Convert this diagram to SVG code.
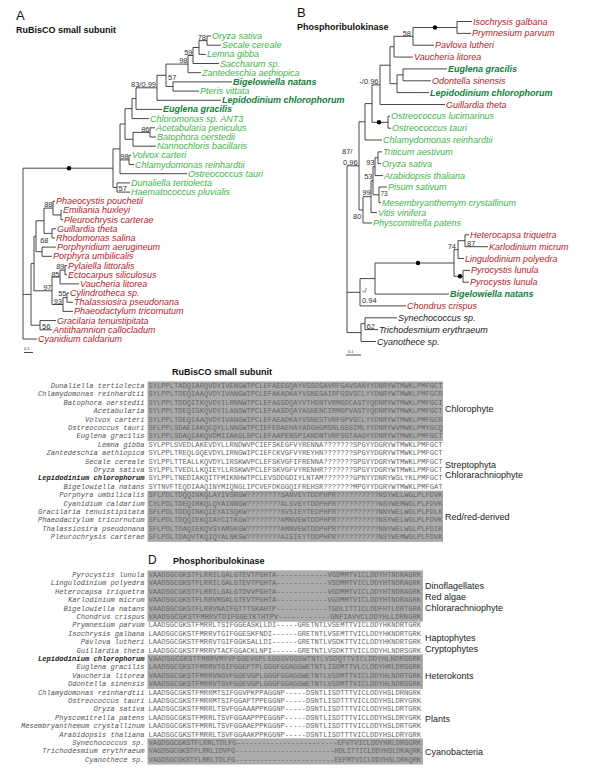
<svg xmlns="http://www.w3.org/2000/svg" width="600" height="776" viewBox="0 0 600 776">
<style>
.br{stroke:#333;stroke-width:0.9;fill:none}
text{font-family:"Liberation Sans",Arial,sans-serif}
.g{fill:#3db54a;font-size:9px;font-style:italic}
.dg{fill:#10803c;font-size:9px;font-style:italic;font-weight:bold}
.r{fill:#b2222b;font-size:9px;font-style:italic}
.k{fill:#222;font-size:9px;font-style:italic}
.bs{fill:#333;font-size:7.5px}
.e{text-anchor:end}
.ttl{fill:#111;font-size:9px;font-weight:bold}
.pl{fill:#111;font-size:13px}
.sc{fill:#333;font-size:4px}
.nm{font-family:"Liberation Mono","Courier New",monospace;font-size:7.1px;font-style:italic;fill:#555;text-anchor:end}
.nb{font-weight:bold;fill:#222}
.sq{font-family:"Liberation Mono","Courier New",monospace;font-size:7.1px;fill:#666}
.grp{fill:#222;font-size:9px}
.blk{fill:#ababab}
.dot{fill:#000}
</style>

<g id="panel-labels">
<text class="pl" x="16" y="20">A</text>
<text class="ttl" x="16" y="33">RuBisCO small subunit</text>
<text class="pl" x="297" y="17">B</text>
<text class="ttl" x="297" y="30">Phosphoribulokinase</text>
<text class="ttl" x="172" y="375">RuBisCO small subunit</text>
<text class="pl" x="148" y="564" style="font-size:12px">D</text>
<text class="ttl" x="173" y="564">Phosphoribulokinase</text>
</g>

<g id="connectors">
<path class="br" d="M207 36V45.2M207 36H211M207 45.2H221
M199 40.6V54.4M199 40.6H207M199 54.4H206
M193 47.5V63.5M193 47.5H199M193 63.5H219
M188 55.5V72.7M188 55.5H193M188 72.7H201
M173 81.9V91.1M173 81.9H232M173 91.1H199
M166 64.1V86.5M166 64.1H188M166 86.5H173
M157 75.3V100.3M157 75.3H166M157 100.3H221
M136 87.8V109.4M136 87.8H157M136 109.4H162
M132 98.6V118.6M132 98.6H136M132 118.6H149
M150 127.8V137M150 127.8H155M150 137H156
M133 132.4V146.2M133 132.4H150M133 146.2H156
M125 108.6V139.3M125 108.6H132M125 139.3H133
M129 155.3V164.5M129 155.3H131M129 164.5H134
M120 124V173.7M120 124H125M120 159.9H129M120 173.7H187
M117 182.9V192.1M117 182.9H130M117 192.1H130
M113 148.9V187.5M113 148.9H120M113 187.5H117
M23 168.2V339M23 168.2H113M23 294.4H31M23 339H37
M61 210.4V219.6M61 210.4H62M61 219.6H63
M53 201.2V215M53 201.2H55M53 215H61
M52 228.8V238M52 228.8H56M52 238H55
M44 208.1V233.4M44 208.1H53M44 233.4H52
M42 247.1V256.3M42 247.1H56M42 256.3H52
M36 220.8V251.7M36 220.8H44M36 251.7H42
M65 265.5V274.7M65 265.5H67M65 274.7H67
M60 270.1V283.9M60 270.1H65M60 283.9H79
M67 293V302.2M67 293H69M67 302.2H73
M63 297.6V311.4M63 297.6H67M63 311.4H73
M52 277V304.5M52 277H60M52 304.5H63
M34 236.3V290.8M34 236.3H36M34 290.8H52
M40 320.6V329.8M40 320.6H56M40 329.8H52
M31 263.6V325.2M31 263.6H34M31 325.2H40
M24 352.5H33"/>
<path class="br" d="M457 21.5V33.4M457 21.5H472M457 33.4H471
M413 27.5V45.2M413 27.5H457M413 45.2H434
M394 36.3V57.1M394 36.3H413M394 57.1H413
M403 68.9V80.8M403 68.9H447M403 80.8H431
M397 74.9V92.6M397 74.9H403M397 92.6H429
M390 46.7V83.7M390 46.7H394M390 83.7H397
M380 65.2V104.5M380 65.2H390M380 104.5H445
M388 116.3V128.2M388 116.3H390M388 128.2H391
M372 84.9V122.3M372 84.9H380M372 122.3H388
M365 103.6V140M365 103.6H372M365 140H382
M378 151.9V163.7M378 151.9H382M378 163.7H381
M375 157.8V175.6M375 157.8H378M375 175.6H383
M379 187V202.6M379 187H387M379 202.6H381
M373 166.7V194.8M373 166.7H375M373 194.8H379
M371 180.75V212.6M371 180.75H373M371 212.6H377
M363 196.7V223M363 196.7H371M363 223H372
M359 121.8V209.9M359 121.8H365M359 209.9H363
M465 234.8V246.7M465 234.8H469M465 246.7H488
M458 240.7V258.5M458 240.7H465M458 258.5H464
M463 270.4V282.2M463 270.4H470M463 282.2H469
M454 249.6V276.3M454 249.6H458M454 276.3H463
M375 263V294.1M375 263H454M375 294.1H449
M360 278.6V305.9M360 278.6H375M360 305.9H406
M365 317.8V329.6M365 317.8H397M365 329.6H378
M361 323.7V341.5M361 323.7H365M361 341.5H376
M347 165.8V332.6M347 165.8H359M347 292.3H360M347 332.6H361
M346 355H361"/>
<circle class="dot" cx="69" cy="168.2" r="2.2"/>
<circle class="dot" cx="435" cy="27.5" r="2.2"/>
<circle class="dot" cx="379" cy="122.3" r="2.2"/>
<circle class="dot" cx="418" cy="263" r="2.2"/>
<circle class="dot" cx="460" cy="276.3" r="2.2"/>
</g>

<g id="support-A">
<text class="bs e" x="206" y="40">78</text>
<text class="bs e" x="192.5" y="54.7">59</text>
<text class="bs e" x="187.5" y="63.3">98</text>
<text class="bs" x="168" y="80">57</text>
<text class="bs e" x="156" y="87">83/0.99</text>
<text class="bs e" x="149.5" y="131.6">86</text>
<text class="bs e" x="128.5" y="159.1">98</text>
<text class="bs" x="118.5" y="191.3">57</text>
<text class="bs e" x="52.5" y="207.3">88</text>
<text class="bs e" x="48.5" y="243">68</text>
<text class="bs e" x="64.5" y="268.6">89</text>
<text class="bs e" x="59.5" y="276.6">85</text>
<text class="bs e" x="51.5" y="290">97</text>
<text class="bs e" x="66.5" y="296">55</text>
<text class="bs e" x="62" y="304.3">93</text>
<text class="bs" x="42" y="328.5">56</text>
<text class="sc" x="24" y="350">0.1</text>
</g>
<g id="support-B">
<text class="bs e" x="411" y="35.5">58</text>
<text class="bs e" x="378.5" y="84">-/0.96</text>
<text class="bs" x="342" y="154">87/</text>
<text class="bs" x="343" y="164.5">0.96</text>
<text class="bs e" x="374.5" y="165">93</text>
<text class="bs e" x="372.5" y="179">53</text>
<text class="bs e" x="370.5" y="194.8">99</text>
<text class="bs" x="380.5" y="195.6" style="font-size:6.5px">73</text>
<text class="bs" x="353" y="219">80</text>
<text class="bs e" x="456" y="248.8">74</text>
<text class="bs" x="467" y="245.5">87</text>
<text class="bs" x="362" y="293">-/</text>
<text class="bs" x="362" y="303">0.94</text>
<text class="bs" x="366.5" y="328.8">62</text>
<text class="sc" x="348" y="352.5">0.1</text>
</g>

<g id="tree-A-taxa">
<g id="a1"><text class="g" x="212" y="39">Oryza sativa</text></g>
<g id="a2"><text class="g" x="222" y="48.2">Secale cereale</text></g>
<g id="a3"><text class="g" x="207" y="57.4">Lemna gibba</text></g>
<g id="a4"><text class="g" x="220" y="66.5">Saccharum sp.</text></g>
<g id="a5"><text class="g" x="202" y="75.7">Zantedeschia aethiopica</text></g>
<g id="a6"><text class="dg" x="233" y="84.9">Bigelowiella natans</text></g>
<g id="a7"><text class="g" x="200" y="94.1">Pteris vittata</text></g>
<g id="a8"><text class="dg" x="222" y="103.3">Lepidodinium chlorophorum</text></g>
<g id="a9"><text class="dg" x="163" y="112.4">Euglena gracilis</text></g>
<g id="a10"><text class="g" x="150" y="121.6">Chloromonas sp. ANT3</text></g>
<g id="a11"><text class="g" x="156" y="130.8">Acetabularia peniculus</text></g>
<g id="a12"><text class="g" x="157" y="140">Batophora oerstedii</text></g>
<g id="a13"><text class="g" x="157" y="149.2">Nannochloris bacillaris</text></g>
<g id="a14"><text class="g" x="132" y="158.3">Volvox carteri</text></g>
<g id="a15"><text class="g" x="135" y="167.5">Chlamydomonas reinhardtii</text></g>
<g id="a16"><text class="g" x="188" y="176.7">Ostreococcus tauri</text></g>
<g id="a17"><text class="g" x="131" y="185.9">Dunaliella tertiolecta</text></g>
<g id="a18"><text class="g" x="131" y="195.1">Haematococcus pluvialis</text></g>
<g id="a19"><text class="r" x="56" y="204.2">Phaeocystis pouchetii</text></g>
<g id="a20"><text class="r" x="63" y="213.4">Emiliania huxleyi</text></g>
<g id="a21"><text class="r" x="64" y="222.6">Pleurochrysis carterae</text></g>
<g id="a22"><text class="r" x="57" y="231.8">Guillardia theta</text></g>
<g id="a23"><text class="r" x="56" y="241">Rhodomonas salina</text></g>
<g id="a24"><text class="r" x="57" y="250.1">Porphyridium aerugineum</text></g>
<g id="a25"><text class="r" x="53" y="259.3">Porphyra umbilicalis</text></g>
<g id="a26"><text class="r" x="68" y="268.5">Pylaiella littoralis</text></g>
<g id="a27"><text class="r" x="68" y="277.7">Ectocarpus siliculosus</text></g>
<g id="a28"><text class="r" x="80" y="286.9">Vaucheria litorea</text></g>
<g id="a29"><text class="r" x="70" y="296">Cylindrotheca sp.</text></g>
<g id="a30"><text class="r" x="74" y="305.2">Thalassiosira pseudonana</text></g>
<g id="a31"><text class="r" x="74" y="314.4">Phaeodactylum tricornutum</text></g>
<g id="a32"><text class="r" x="57" y="323.6">Gracilaria tenuistipitata</text></g>
<g id="a33"><text class="r" x="53" y="332.8">Antithamnion callocladum</text></g>
<g id="a34"><text class="r" x="38" y="342">Cyanidium caldarium</text></g>
</g>

<g id="tree-B-taxa">
<g id="b1"><text class="r" x="473" y="24.5">Isochrysis galbana</text></g>
<g id="b2"><text class="r" x="472" y="36.4">Prymnesium parvum</text></g>
<g id="b3"><text class="r" x="435" y="48.2">Pavlova lutheri</text></g>
<g id="b4"><text class="r" x="414" y="60.1">Vaucheria litorea</text></g>
<g id="b5"><text class="dg" x="448" y="71.9">Euglena gracilis</text></g>
<g id="b6"><text class="r" x="432" y="83.8">Odontella sinensis</text></g>
<g id="b7"><text class="dg" x="430" y="95.6">Lepidodinium chlorophorum</text></g>
<g id="b8"><text class="r" x="446" y="107.5">Guillardia theta</text></g>
<g id="b9"><text class="g" x="391" y="119.3">Ostreococcus lucimarinus</text></g>
<g id="b10"><text class="g" x="392" y="131.2">Ostreococcus tauri</text></g>
<g id="b11"><text class="g" x="383" y="143">Chlamydomonas reinhardtii</text></g>
<g id="b12"><text class="g" x="383" y="154.9">Triticum aestivum</text></g>
<g id="b13"><text class="g" x="382" y="166.7">Oryza sativa</text></g>
<g id="b14"><text class="g" x="384" y="178.6">Arabidopsis thaliana</text></g>
<g id="b15"><text class="g" x="388" y="190">Pisum sativum</text></g>
<g id="b16"><text class="g" x="382" y="205.6">Mesembryanthemym crystallinum</text></g>
<g id="b17"><text class="g" x="378" y="215.6">Vitis vinifera</text></g>
<g id="b18"><text class="g" x="373" y="226">Physcomitrella patens</text></g>
<g id="b19"><text class="r" x="470" y="237.8">Heterocapsa triquetra</text></g>
<g id="b20"><text class="r" x="489" y="249.7">Karlodinium micrum</text></g>
<g id="b21"><text class="r" x="465" y="261.5">Lingulodinium polyedra</text></g>
<g id="b22"><text class="r" x="471" y="273.4">Pyrocystis lunula</text></g>
<g id="b23"><text class="r" x="470" y="285.2">Pyrocystis lunula</text></g>
<g id="b24"><text class="dg" x="450" y="297.1">Bigelowiella natans</text></g>
<g id="b25"><text class="r" x="407" y="308.9">Chondrus crispus</text></g>
<g id="b26"><text class="k" x="398" y="320.8">Synechococcus sp.</text></g>
<g id="b27"><text class="k" x="379" y="332.6">Trichodesmium erythraeum</text></g>
<g id="b28"><text class="k" x="377" y="344.5">Cyanothece sp.</text></g>
</g>

<g id="alignment-C">
<rect class="blk" x="147.5" y="381.4" width="295.5" height="59.7"/>
<rect class="blk" x="147.5" y="490.6" width="295.5" height="51.3"/>
<g id="c1"><text class="nm" x="144.5" y="388">Dunaliella tertiolecta</text><text class="sq" x="148.5" y="388" textLength="294" lengthAdjust="spacing">SYLPPLTADQIARQVDYIVENGWTPCLEFAEEGQAYVSSDSAVRFGAVSANYYDNRYWTMWKLPMFGCT</text></g>
<g id="c2"><text class="nm" x="144.5" y="396.4">Chlamydomonas reinhardtii</text><text class="sq" x="148.5" y="396.4" textLength="294" lengthAdjust="spacing">SYLPPLTDEQIAAQVDYIVANGWIPCLEFAKADKAYVSNESAIRFGSVSCLYYDNRYWTMWKLPMFGCR</text></g>
<g id="c3"><text class="nm" x="144.5" y="404.8">Batophora oerstedii</text><text class="sq" x="148.5" y="404.8" textLength="294" lengthAdjust="spacing">SYLPPLTDDQITKQVDYILRNNWTPCLEFAGSDQAYVTHDNTVRMGDCASTYQDNRYWTMWKLPMFGCI</text></g>
<g id="c4"><text class="nm" x="144.5" y="413.2">Acetabularia</text><text class="sq" x="148.5" y="413.2" textLength="294" lengthAdjust="spacing">SYLPPLTDEQISKQVDYILANSWTPCLEFAASDQAYAGNENCIRMGPVASTYQDNRYWTMWKLPMFGCT</text></g>
<g id="c5"><text class="nm" x="144.5" y="421.6">Volvox carteri</text><text class="sq" x="148.5" y="421.6" textLength="294" lengthAdjust="spacing">SYLPPLTDEQIAAQVDYIVANGWIPCLEFAEADKAYVSNESTVRFGPVSCLYYDNRYWTMWKLPMFGCR</text></g>
<g id="c6"><text class="nm" x="144.5" y="430">Ostreococcus tauri</text><text class="sq" x="148.5" y="430" textLength="294" lengthAdjust="spacing">SFLPPLSDAEIAKQCQYLLNNGWTPCIEFEDAEHAYADGHGMSNLGSSIMLYYDNRYWVMWKLPMYGCQ</text></g>
<g id="c7"><text class="nm" x="144.5" y="438.4">Euglena gracilis</text><text class="sq" x="148.5" y="438.4" textLength="294" lengthAdjust="spacing">SYLPPLSDAQIAKQVDMIIAKGLSPCLEFAAPENSPIANDNTVRFSGTAAGYYDNRYWTMWKLPMFGCT</text></g>
<g id="c8"><text class="nm" x="144.5" y="446.8">Lemna gibba</text><text class="sq" x="148.5" y="446.8" textLength="294" lengthAdjust="spacing">SYLPPLSVEDLAKEVDYLLRNDWVPCIEFSKEGFVYRENNA???????SPGYYDGRYWTMWKLPMFGCT</text></g>
<g id="c9"><text class="nm" x="144.5" y="455.2">Zantedeschia aethiopica</text><text class="sq" x="148.5" y="455.2" textLength="294" lengthAdjust="spacing">SYLPPLTREQLGQEVDYLIRNGWIPCIEFCKVGFVYREYHN???????SPGYYDGRYWTMWKLPMFGCT</text></g>
<g id="c10"><text class="nm" x="144.5" y="463.6">Secale cereale</text><text class="sq" x="148.5" y="463.6" textLength="294" lengthAdjust="spacing">SYLPPLTTEALLKQVDYLIRSKWVPCLEFSKVGFIFRENNA???????SPGYYDGRYWTMWKLPMFGCT</text></g>
<g id="c11"><text class="nm" x="144.5" y="472">Oryza sativa</text><text class="sq" x="148.5" y="472" textLength="294" lengthAdjust="spacing">SYLPPLTVEDLLKQIEYLLRSKWVPCLEFSKVGFVYRENHR???????SPGYYDGRYWTMWKLPMFGCT</text></g>
<g id="c12"><text class="nm nb" x="144.5" y="480.4">Lepidodinium chlorophorum</text><text class="sq" x="148.5" y="480.4" textLength="294" lengthAdjust="spacing">SYLPPLTNEDIAKQITFMIKNHWTPCLEVSDDGDIYLNTAM???????GPNYYDNRYWSLYKLPMFGCT</text></g>
<g id="c13"><text class="nm" x="144.5" y="488.8">Bigelowiella natans</text><text class="sq" x="148.5" y="488.8" textLength="294" lengthAdjust="spacing">SYTNVFTEQDIAAQINYMIQNGLIPCVEFDKGGQIFREHSR???????MPGYYDGRYWTMWKLPMFGAT</text></g>
<g id="c14"><text class="nm" x="144.5" y="497.2">Porphyra umbilicalis</text><text class="sq" x="148.5" y="497.2" textLength="294" lengthAdjust="spacing">SFLPDLTDQQINKQLAYIVSRGW????????SANVEYTDDPHPR??????????NSYWELWGLPLFDVK</text></g>
<g id="c15"><text class="nm" x="144.5" y="505.6">Cyanidium caldarium</text><text class="sq" x="148.5" y="505.6" textLength="294" lengthAdjust="spacing">CYLPDLTDEQIRKQLQYAINNGW????????ALSVEYTDDPHPR??????????NSYWEMWGLPLFDVK</text></g>
<g id="c16"><text class="nm" x="144.5" y="514">Gracilaria tenuistipitata</text><text class="sq" x="148.5" y="514" textLength="294" lengthAdjust="spacing">SFLPDLTDDQINKQIEYAISQKW????????SVSIEYTEDPHPR??????????NNYWELWGLPLFDLK</text></g>
<g id="c17"><text class="nm" x="144.5" y="522.4">Phaeodactylum tricornutum</text><text class="sq" x="148.5" y="522.4" textLength="294" lengthAdjust="spacing">SFLPDLTDQQIEKQIAYCITKGW????????AMNVEWTDDPHPR??????????NSYWELWGLPLFDVK</text></g>
<g id="c18"><text class="nm" x="144.5" y="530.8">Thalassiosira pseudonana</text><text class="sq" x="148.5" y="530.8" textLength="294" lengthAdjust="spacing">SFLPDLTDAQIEKQVSYAMSKGW????????AMNVEWTDDPHPR??????????NNYWELWGLPLFDIK</text></g>
<g id="c19"><text class="nm" x="144.5" y="539.2">Pleurochrysis carterae</text><text class="sq" x="148.5" y="539.2" textLength="294" lengthAdjust="spacing">SFLPDLTDAQVTKQIQYALNKSW????????AISIEYTDDPHPR??????????NSYWEMWGLPLFDVK</text></g>
<g id="c-groups">
<text class="grp" x="445" y="412">Chlorophyte</text>
<text class="grp" x="445" y="468">Streptophyta</text>
<text class="grp" x="445" y="478">Chlorarachniophyte</text>
<text class="grp" x="445" y="520">Red/red-derived</text>
</g>
</g>

<g id="alignment-D">
<rect class="blk" x="147.5" y="570.4" width="275.5" height="51.3"/>
<rect class="blk" x="147.5" y="654.4" width="275.5" height="34.5"/>
<rect class="blk" x="147.5" y="738.4" width="275.5" height="26.1"/>
<g id="d1"><text class="nm" x="144.5" y="577">Pyrocystis lunula</text><text class="sq" x="148.5" y="577" textLength="272.6" lengthAdjust="spacing">VAADSGCGKSTFLRRILGALGTEVTPGHTA------------VGDMMTVICLDDYHTNDRAGRK</text></g>
<g id="d2"><text class="nm" x="144.5" y="585.4">Lingulodinium polyedra</text><text class="sq" x="148.5" y="585.4" textLength="272.6" lengthAdjust="spacing">VAADSGCGKSTFLRRILGALGTEVTPGHTA------------VSDMMTVICLDDYHTNDRAGRK</text></g>
<g id="d3"><text class="nm" x="144.5" y="593.8">Heterocapsa triquetra</text><text class="sq" x="148.5" y="593.8" textLength="272.6" lengthAdjust="spacing">VAADSGCGKSTFLRRILGALGTDVVPGHTA------------VGDMMTVICLDDYHTNDRAGRK</text></g>
<g id="d4"><text class="nm" x="144.5" y="602.2">Karlodinium micrum</text><text class="sq" x="148.5" y="602.2" textLength="272.6" lengthAdjust="spacing">VAADSGCGKSTFLRRVMGALGTEVTPGHTA------------VGDMMTVICLDDYHTNDRAGRK</text></g>
<g id="d5"><text class="nm" x="144.5" y="610.6">Bigelowiella natans</text><text class="sq" x="148.5" y="610.6" textLength="272.6" lengthAdjust="spacing">VAADSGCGKSTFLRRVNAIFGTTTSKAHTP------------TGDLITTICLDDFHTLDRTGRA</text></g>
<g id="d6"><text class="nm" x="144.5" y="619">Chondrus crispus</text><text class="sq" x="148.5" y="619" textLength="272.6" lengthAdjust="spacing">VAADSGCGKSTFMRRVTDIFGGETKTHTPV------------GNFIAVVCLDDYHLLDRNGRK</text></g>
<g id="d7"><text class="nm" x="144.5" y="627.4">Prymnesium parvum</text><text class="sq" x="148.5" y="627.4" textLength="272.6" lengthAdjust="spacing">LAADSGCGKSTFMRRLTSIFGGEASKLLDI-----GRETNTLVSEMTTVICLDDYHKNDRTGRK</text></g>
<g id="d8"><text class="nm" x="144.5" y="635.8">Isochrysis galbana</text><text class="sq" x="148.5" y="635.8" textLength="272.6" lengthAdjust="spacing">LAADSGCGKSTFMRRVTGIFGGESKFNDI------GRETNTLVSEMTTVICLDDYHKNDRTGRK</text></g>
<g id="d9"><text class="nm" x="144.5" y="644.2">Pavlova lutheri</text><text class="sq" x="148.5" y="644.2" textLength="272.6" lengthAdjust="spacing">LAADSGCGKSTFMRRVTGIFGGKSALLDI------GRETNTLVSDKTTVICLDDYHKNDRTGRK</text></g>
<g id="d10"><text class="nm" x="144.5" y="652.6">Guillardia theta</text><text class="sq" x="148.5" y="652.6" textLength="272.6" lengthAdjust="spacing">LAADSGCGKSTFMRRVTACFGGACKLNPI------GRETNTLVSDKTTVICLDDYHLNDRSGRK</text></g>
<g id="d11"><text class="nm nb" x="144.5" y="661">Lepidodinium chlorophorum</text><text class="sq" x="148.5" y="661" textLength="272.6" lengthAdjust="spacing">VAADSGCGKSTFMRRVMYVFGGEVGPLGGGGVGGSWTNTLVSDQTTVICLDDYHLNDRGGRK</text></g>
<g id="d12"><text class="nm" x="144.5" y="669.4">Euglena gracilis</text><text class="sq" x="148.5" y="669.4" textLength="272.6" lengthAdjust="spacing">LAADSGCGKSTFMRRVTGIFGGEPTPLGGGFGGNGGWETNTLISDMTTVLCLDDYHRLDRGGRK</text></g>
<g id="d13"><text class="nm" x="144.5" y="677.8">Vaucheria litorea</text><text class="sq" x="148.5" y="677.8" textLength="272.6" lengthAdjust="spacing">VAADSGCGKSTFMRRVNGVFGGEVGPLGGGFGGNGGWETNTLVSDMTTVICLDDYHLNDRTGRK</text></g>
<g id="d14"><text class="nm" x="144.5" y="686.2">Odontella sinensis</text><text class="sq" x="148.5" y="686.2" textLength="272.6" lengthAdjust="spacing">VAADSGCGKSTFMRRVTGVFGGEVGPLGGGFGGNGGWETNTLVSDMTTVICLDDYHLNDRGGRK</text></g>
<g id="d15"><text class="nm" x="144.5" y="694.6">Chlamydomonas reinhardtii</text><text class="sq" x="148.5" y="694.6" textLength="272.6" lengthAdjust="spacing">LAADSGCGKSTFMRRMTSIFGGVPKPPAGGNP-----DSNTLISDTTTVICLDDYHSLDRNGRK</text></g>
<g id="d16"><text class="nm" x="144.5" y="703">Ostreococcus tauri</text><text class="sq" x="148.5" y="703" textLength="272.6" lengthAdjust="spacing">LAADSGCGKSTFMRRMTSIFGGAPTPPEGGNP-----DSNTLISDTTTVICLDDYHSLDRYGRK</text></g>
<g id="d17"><text class="nm" x="144.5" y="711.4">Oryza sativa</text><text class="sq" x="148.5" y="711.4" textLength="272.6" lengthAdjust="spacing">LAADSGCGKSTFMRRLTSVFGGAAAPPKGGNP-----DSNTLISDTTTVICLDDYHSLDRTGRK</text></g>
<g id="d18"><text class="nm" x="144.5" y="719.8">Physcomitrella patens</text><text class="sq" x="148.5" y="719.8" textLength="272.6" lengthAdjust="spacing">LAADSGCGKSTFMRRLTSVFGGAAPPPEGGNP-----DSNTLISDTTTVICLDDYHSLDRYGRK</text></g>
<g id="d19"><text class="nm" x="144.5" y="728.2">Mesembryanthemum crystallinum</text><text class="sq" x="148.5" y="728.2" textLength="272.6" lengthAdjust="spacing">LAADSGCGKSTFMRRLTSVFGGAAEPPKGGNP-----DSNTLISDTTTVICLDDYHSLDRTGRK</text></g>
<g id="d20"><text class="nm" x="144.5" y="736.6">Arabidopsis thaliana</text><text class="sq" x="148.5" y="736.6" textLength="272.6" lengthAdjust="spacing">LAADSGCGKSTFMRRLTSVFGGAAKPPKGGNP-----DSNTLISDTTTVICLDDYHSLDRYGRK</text></g>
<g id="d21"><text class="nm" x="144.5" y="745">Synechococcus sp.</text><text class="sq" x="148.5" y="745" textLength="272.6" lengthAdjust="spacing">VAGDSGCGKSTFLRRLTDLFG------------------------EFVTVICLDDYHRLDRGGRK</text></g>
<g id="d22"><text class="nm" x="144.5" y="753.4">Trichodesmium erythraeum</text><text class="sq" x="148.5" y="753.4" textLength="272.6" lengthAdjust="spacing">VAGDSGCGKSTFLRRLIDVFG------------------------HDLITTICLDDYHSLDRAQRK</text></g>
<g id="d23"><text class="nm" x="144.5" y="761.8">Cyanothece sp.</text><text class="sq" x="148.5" y="761.8" textLength="272.6" lengthAdjust="spacing">VAGDSGCGKSTFLRRLTDLFG------------------------EEFMTVICLDDYHSLDRKQRK</text></g>
<g id="d-groups">
<text class="grp" x="425" y="589">Dinoflagellates</text>
<text class="grp" x="425" y="600">Red algae</text>
<text class="grp" x="425" y="611">Chlorarachniophyte</text>
<text class="grp" x="425" y="641">Haptophytes</text>
<text class="grp" x="425" y="652">Cryptophytes</text>
<text class="grp" x="425" y="679">Heterokonts</text>
<text class="grp" x="425" y="722">Plants</text>
<text class="grp" x="425" y="755">Cyanobacteria</text>
</g>
</g>
</svg>
